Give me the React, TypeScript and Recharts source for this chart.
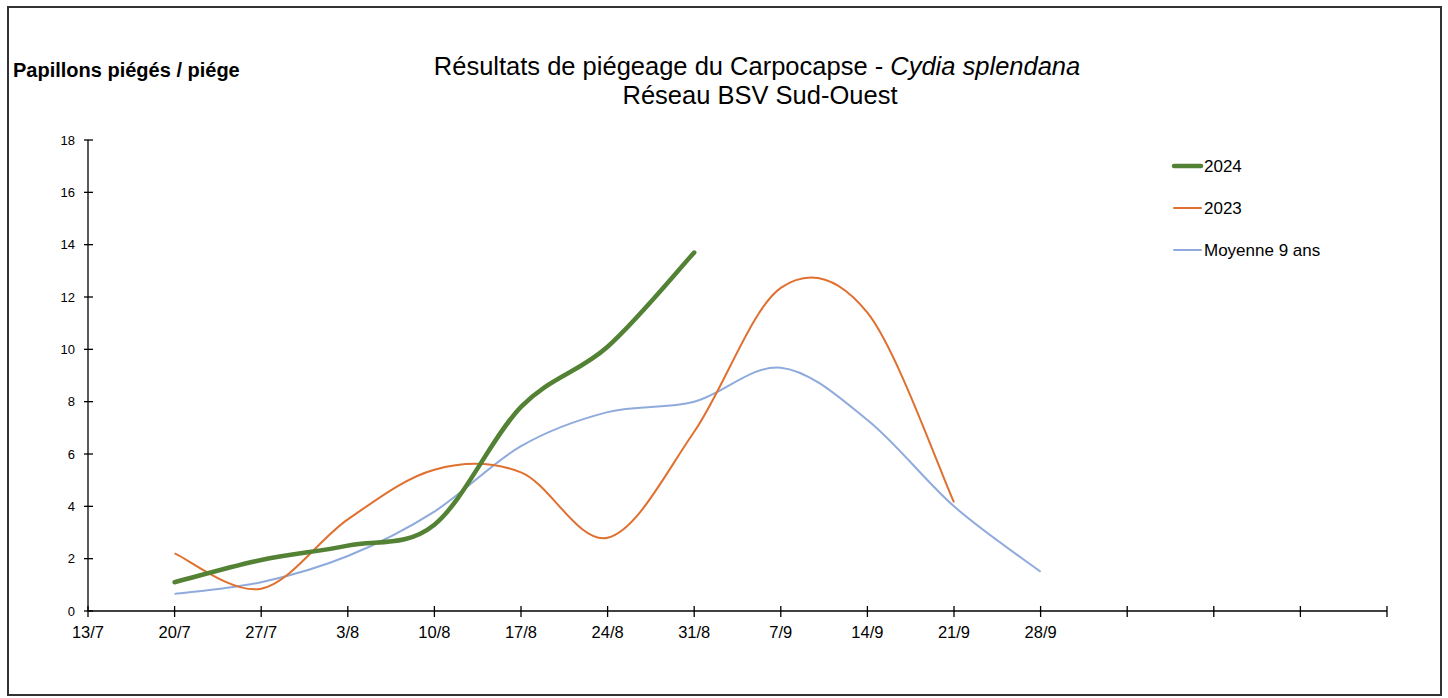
import React from 'react';
import { LineChart, Line, XAxis, YAxis } from 'recharts';

const categories = ['13/7', '20/7', '27/7', '3/8', '10/8', '17/8', '24/8', '31/8', '7/9', '14/9', '21/9', '28/9', '', '', '', ''];
const serie2024: (number | null)[] = [null, 1.1, 1.95, 2.5, 3.3, 7.8, 10.1, 13.7, null, null, null, null, null, null, null, null];
const serie2023: (number | null)[] = [null, 2.2, 0.85, 3.5, 5.4, 5.3, 2.8, 6.85, 12.35, 11.4, 4.15, null, null, null, null, null];
const serieMoyenne: (number | null)[] = [null, 0.65, 1.1, 2.1, 3.8, 6.3, 7.6, 8.0, 9.3, 7.3, 4.0, 1.5, null, null, null, null];
const yTicks = [0, 2, 4, 6, 8, 10, 12, 14, 16, 18];

const data = categories.map((c, i) => ({ i, date: c, y2024: serie2024[i], y2023: serie2023[i], moy: serieMoyenne[i] }));

const FONT = 'Liberation Sans, Arial, sans-serif';

// Excel-like smoothing (Catmull-Rom / cardinal with tension 0)
function excelSmooth(context: any) {
  let pts: [number, number][] = [];
  return {
    areaStart() {},
    areaEnd() {},
    lineStart() { pts = []; },
    point(x: number, y: number) { pts.push([+x, +y]); },
    lineEnd() {
      const n = pts.length;
      if (n === 0) return;
      context.moveTo(pts[0][0], pts[0][1]);
      if (n === 1) { context.lineTo(pts[0][0], pts[0][1]); return; }
      for (let k = 0; k < n - 1; k++) {
        const p0 = pts[k - 1] || pts[k];
        const p1 = pts[k];
        const p2 = pts[k + 1];
        const p3 = pts[k + 2] || pts[k + 1];
        const c1x = p1[0] + (p2[0] - p0[0]) / 6;
        const c1y = p1[1] + (p2[1] - p0[1]) / 6;
        const c2x = p2[0] - (p3[0] - p1[0]) / 6;
        const c2y = p2[1] - (p3[1] - p1[1]) / 6;
        context.bezierCurveTo(c1x, c1y, c2x, c2y, p2[0], p2[1]);
      }
    },
  };
}

const XTick = (props: any) => {
  const { x, y, payload } = props;
  const label = categories[payload.value] ?? '';
  return (
    <g>
      <line x1={x} x2={x} y1={y - 5} y2={y + 6} stroke="#000" strokeWidth={1.3} />
      <text x={x} y={y + 27} textAnchor="middle" fontSize={16.5} fontFamily={FONT} fill="#000">{label}</text>
    </g>
  );
};

const YTick = (props: any) => {
  const { x, y, payload } = props;
  return (
    <g>
      <line x1={x - 4} x2={x + 5} y1={y} y2={y} stroke="#000" strokeWidth={1.3} />
      <text x={x - 13} y={y + 4.5} textAnchor="end" fontSize={13} fontFamily={FONT} fill="#000">{payload.value}</text>
    </g>
  );
};

const legendItems = [
  { label: '2024', color: '#548235', w: 4.5, y: 166 },
  { label: '2023', color: '#E07030', w: 2, y: 208 },
  { label: 'Moyenne 9 ans', color: '#8FAADC', w: 2, y: 250 },
];

export default function App() {
  return (
    <div style={{ position: 'absolute', left: 0, top: 0, width: 1448, height: 698, background: '#fff' }}>
      <LineChart width={1448} height={698} data={data} margin={{ top: 140, right: 61, left: 28, bottom: 57 }}>
        <XAxis
          dataKey="i"
          type="number"
          domain={[0, 15]}
          ticks={categories.map((_, i) => i)}
          interval={0}
          tickLine={false}
          tickSize={0}
          tickMargin={0}
          height={30}
          tick={XTick}
          stroke="#000"
          strokeWidth={1.3}
          allowDecimals={false}
        />
        <YAxis
          domain={[0, 18]}
          ticks={yTicks}
          interval={0}
          width={60}
          tickLine={false}
          tickSize={0}
          tickMargin={0}
          tick={YTick}
          stroke="#000"
          strokeWidth={1.3}
        />
        <Line dataKey="moy" type={excelSmooth as any} stroke="#8FAADC" strokeWidth={2} dot={false} activeDot={false} isAnimationActive={false} />
        <Line dataKey="y2023" type={excelSmooth as any} stroke="#E07030" strokeWidth={2} dot={false} activeDot={false} isAnimationActive={false} />
        <Line dataKey="y2024" type={excelSmooth as any} stroke="#548235" strokeWidth={4.5} strokeLinecap="round" dot={false} activeDot={false} isAnimationActive={false} />
      </LineChart>
      <svg width={1448} height={698} style={{ position: 'absolute', left: 0, top: 0, pointerEvents: 'none' }}>
        <rect x={8} y={7} width={1433} height={688} fill="none" stroke="#333" strokeWidth={2} />
        <text x={757} y={75} textAnchor="middle" fontSize={25.5} fontFamily={FONT} fill="#000">
          Résultats de piégeage du Carpocapse - <tspan fontStyle="italic">Cydia splendana</tspan>
        </text>
        <text x={760} y={104} textAnchor="middle" fontSize={25.5} fontFamily={FONT} fill="#000">Réseau BSV Sud-Ouest</text>
        <text x={13} y={77} fontSize={20} fontWeight="bold" fontFamily={FONT} fill="#000">Papillons piégés / piége</text>
        {legendItems.map((it) => (
          <g key={it.label}>
            <line x1={1174} x2={1201} y1={it.y} y2={it.y} stroke={it.color} strokeWidth={it.w} strokeLinecap="round" />
            <text x={1204} y={it.y + 6} fontSize={17} fontFamily={FONT} fill="#000">{it.label}</text>
          </g>
        ))}
      </svg>
    </div>
  );
}
